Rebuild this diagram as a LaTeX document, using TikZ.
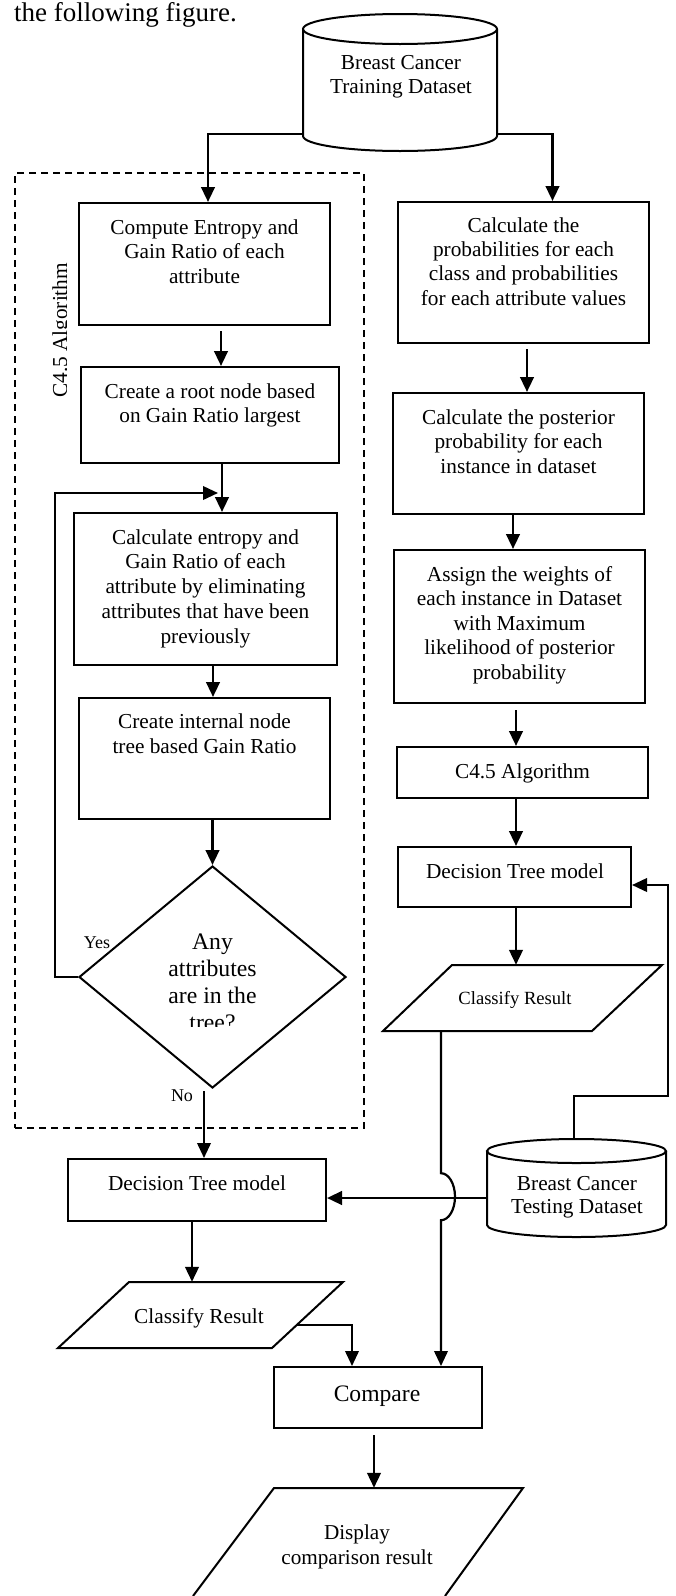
\documentclass[tikz,border=0pt]{standalone}
\usepackage{fontspec}
\setmainfont{Liberation Serif}
\usetikzlibrary{arrows.meta,shapes.geometric}
\newcommand\bxf{\fontsize{21.3pt}{24.5pt}\selectfont}
\newcommand\dmf{\fontsize{23.7pt}{27pt}\selectfont}
\newcommand\smf{\fontsize{18.6pt}{22pt}\selectfont}
\begin{document}
\begin{tikzpicture}[x=1pt,y=-1pt,
  box/.style 2 args={draw, line width=2pt, inner sep=0pt, minimum width=#1pt, minimum height=#2pt},
  ghost/.style 2 args={inner sep=0pt, minimum width=#1pt, minimum height=#2pt},
  txt/.style={font=\bxf, align=center, inner sep=0pt, anchor=base},
  lbl/.style={font=\fontsize{18pt}{20pt}\selectfont, inner sep=0pt, anchor=base},
  shp/.style={draw, line width=2pt},
  arr/.style={line width=2.7pt, -{Triangle[length=15pt,width=13.5pt]}},
  arrthin/.style={line width=2.2pt, -{Triangle[length=15pt,width=13.5pt]}},
  dashbox/.style={draw, line width=2pt, dash pattern=on 7pt off 5pt, inner sep=0pt}]
\fill[white] (0,0) rectangle (675,1596);
\useasboundingbox (0,0) rectangle (675,1596);

% title
\node[font=\fontsize{27pt}{30pt}\selectfont, anchor=base west, inner sep=0pt] (title) at (14,21) {the following figure.};

% top cylinder (text anchors are at the baseline of the last line)
\node[ghost={194}{137}] (cylT) at (400,82.5) {};
\draw[shp] (303,29) -- (303,136) arc[start angle=180,end angle=360,x radius=97pt,y radius=15pt] -- (497,29);
\draw[shp] (400,29) ellipse[x radius=97pt,y radius=15pt];
\node[txt, font=\fontsize{21.3pt}{24pt}\selectfont] (cylTt) at (401,93) {Breast Cancer\\Training Dataset};

% dashed group
\node[dashbox, minimum width=349pt, minimum height=955pt] (alg) at (189.5,650.5) {};
\begin{scope}
  \clip (0,0) rectangle (66,1596);
  \node[rotate=90, anchor=base west, font=\bxf, inner sep=0pt] (alglbl) at (67,398) {C4.5 Algorithm};
\end{scope}

% left column
\node[box={251}{122}] (b1) at (204.5,264) {};
\node[txt] (b1t) at (204.5,283) {Compute Entropy and\\Gain Ratio of each\\attribute};
\node[box={258}{96}] (b2) at (210,415) {};
\node[txt] (b2t) at (210,422.5) {Create a root node based\\on Gain Ratio largest};
\node[box={263}{152}] (b3) at (205.5,589) {};
\node[txt, font=\fontsize{21.3pt}{24.7pt}\selectfont] (b3t) at (205.5,643) {Calculate entropy and\\Gain Ratio of each\\attribute by eliminating\\attributes that have been\\previously};
\node[box={251}{121}] (b4) at (204.5,758.5) {};
\node[txt] (b4t) at (204.5,753) {Create internal node\\tree based Gain Ratio};
\node[diamond, draw, line width=2pt, inner sep=0pt, minimum width=267pt, minimum height=222pt] (dec) at (212.5,977) {};
\begin{scope}
  \clip (0,0) rectangle (675,1026);
  \node[txt, font=\dmf] (dect) at (212.5,1030) {Any\\attributes\\are in the\\tree?};
\end{scope}
\node[lbl] (yes) at (97,948) {Yes};
\node[lbl] (no) at (182,1101) {No};

\node[box={258}{62}] (l5) at (197,1190) {};
\node[txt] (l5t) at (197,1190) {Decision Tree model};
\node[ghost={214}{66}] (l6) at (200,1315) {};
\draw[shp] (129,1282) -- (343,1282) -- (272,1348) -- (58,1348) -- cycle;
\node[txt] (l6t) at (199,1323) {Classify Result};

\node[box={208}{61}] (cmp) at (378,1397.5) {};
\node[txt, font=\fontsize{23.6pt}{27pt}\selectfont] (cmpt) at (377,1401) {Compare};

\node[ghost={249}{104}] (disp) at (398.5,1540) {};
\draw[shp] (193,1596) -- (274,1488) -- (523,1488) -- (445,1596);
\node[txt, font=\fontsize{21.2pt}{25pt}\selectfont] (dispt) at (357,1564) {Display\\comparison result};

% right column
\node[box={251}{141}] (r1) at (523.5,272.5) {};
\node[txt, font=\fontsize{21.3pt}{24.3pt}\selectfont] (r1t) at (523.5,305) {Calculate the\\probabilities for each\\class and probabilities\\for each attribute values};
\node[box={251}{121}] (r2) at (518.5,453.5) {};
\node[txt] (r2t) at (518.5,473) {Calculate the posterior\\probability for each\\instance in dataset};
\node[box={251}{153}] (r3) at (519.5,626.5) {};
\node[txt] (r3t) at (519.5,679) {Assign the weights of\\each instance in Dataset\\with Maximum\\likelihood of posterior\\probability};
\node[box={251}{51}] (r4) at (522.5,772.5) {};
\node[txt] (r4t) at (522.5,778) {C4.5 Algorithm};
\node[box={233}{60}] (r5) at (514.5,877) {};
\node[txt] (r5t) at (515,878) {Decision Tree model};
\node[ghost={210}{66}] (r6) at (522.5,998) {};
\draw[shp] (452,965) -- (662,965) -- (592,1031) -- (383,1031) -- cycle;
\node[txt, font=\smf] (r6t) at (515,1004) {Classify Result};

% bottom cylinder
\node[ghost={179}{98}] (cylB) at (576.5,1188) {};
\draw[shp] (487,1151) -- (487,1225) arc[start angle=180,end angle=360,x radius=89.5pt,y radius=12pt] -- (666,1151);
\draw[shp] (576.5,1151) ellipse[x radius=89.5pt,y radius=12pt];
\node[txt, font=\fontsize{21.3pt}{23pt}\selectfont] (cylBt) at (577,1213) {Breast Cancer\\Testing Dataset};

% connectors
\coordinate (tl) at (303,134);
\coordinate (tr) at (497,134);
\draw[arr] (tl) -| ([xshift=3.5pt]b1.north);
\draw[arr] (tr) -| ([xshift=29pt]r1.north);
\draw[arr] ([xshift=16.5pt,yshift=-5pt]b1.south) -- ([xshift=11pt]b2.north);
\draw[arr] ([xshift=12pt]b2.south) -- ([xshift=16.5pt]b3.north);
\draw[arr] ([xshift=7.5pt]b3.south) -- ([xshift=8.5pt]b4.north);
\draw[arr] (dec.north |- b4.south) -- (dec.north);
\coordinate (lp) at (218,493);
\draw[arrthin] (dec.west) -- ++(-23,0) |- (lp);
\draw[arrthin] ([xshift=-8.5pt,yshift=-2pt]dec.south) -- ([xshift=7pt]l5.north);
\draw[arr] ([xshift=-5pt]l5.south) -- ([xshift=-8pt]l6.north);
\coordinate (l6r) at (297,1325);
\draw[arrthin] (l6r) -| ([xshift=-26pt]cmp.north);
\draw[arrthin] ([xshift=-81.5pt]r6.south) -- ++(0,142) arc[start angle=90,end angle=-90,x radius=14pt,y radius=23.5pt] -- ([xshift=63pt]cmp.north);
\coordinate (cbw) at ([yshift=-10pt]cylB.west);
\draw[arr] (cbw) -- (cbw -| l5.east);
\coordinate (cbt) at ([xshift=-2.5pt]cylB.north);
\coordinate (fbr) at (668,1096);
\coordinate (r5in) at ([yshift=-8pt]r5.east);
\draw[arrthin] (cbt) |- (fbr) |- (r5in);
\draw[arr] ([xshift=3.5pt,yshift=-5pt]r1.south) -- ([xshift=8.5pt]r2.north);
\draw[arr] ([xshift=-5.5pt]r2.south) -- ([xshift=-6.5pt]r3.north);
\draw[arr] ([xshift=-3.5pt,yshift=-6pt]r3.south) -- ([xshift=-6.5pt]r4.north);
\draw[arr] ([xshift=-6.5pt]r4.south) -- ([xshift=1.5pt]r5.north);
\draw[arr] ([xshift=1.5pt]r5.south) -- ([xshift=-6.5pt]r6.north);
\draw[arr] ([xshift=-4pt,yshift=-6pt]cmp.south) -- ([xshift=-24.5pt]disp.north);
\end{tikzpicture}
\end{document}
